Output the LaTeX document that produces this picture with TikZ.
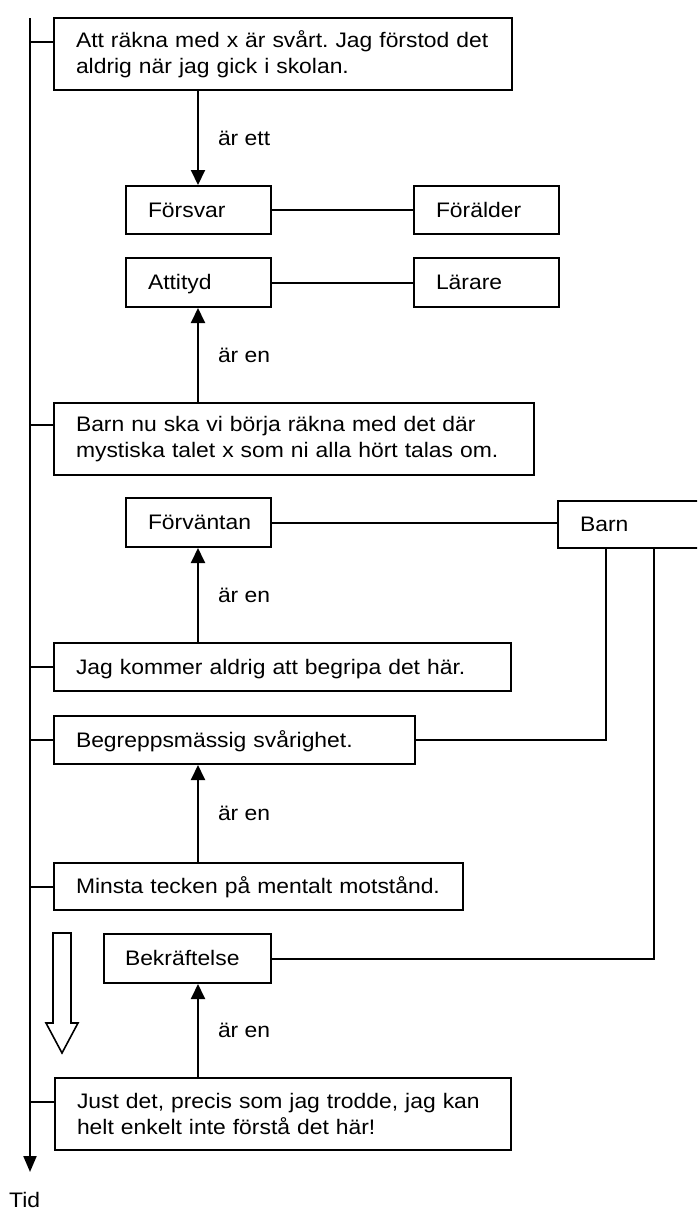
\documentclass[tikz,border=0pt]{standalone}
\usepackage{fontspec}
\setmainfont{Liberation Sans}[FakeStretch=1.09]
\usetikzlibrary{arrows.meta}
\frenchspacing
\begin{document}
\frenchspacing
\begin{tikzpicture}[x=1pt,y=-1pt,
  every node/.style={font=\fontsize{21}{26}\selectfont},
  box/.style={draw, line width=2pt, rectangle, anchor=north west, inner xsep=22pt, inner ysep=0pt, align=left},
  one/.style={text height=15pt, text depth=1pt},
  ln/.style={line width=2pt},
  arr/.style={line width=2pt, -{Triangle[length=15pt,width=14pt]}},
  tarr/.style={line width=2pt, -{Triangle[length=16pt,width=13pt]}},
  lab/.style={anchor=west, inner sep=0pt, xshift=19pt}]
\useasboundingbox (0,0) rectangle (697,1211);
\clip (0,0) rectangle (697,1211);

% boxes
\node[box, minimum width=458pt, minimum height=72pt, text width=414pt] (b1) at (53,17)
  {\mbox{Att räkna med x är svårt. Jag förstod det}\\\mbox{aldrig när jag gick i skolan.}};
\node[box, one, minimum width=145pt, minimum height=48pt, text width=101pt] (forsvar) at (125,185) {Försvar};
\node[box, one, minimum width=145pt, minimum height=48pt, text width=101pt] (foralder) at (413,185) {Förälder};
\node[box, one, minimum width=145pt, minimum height=49pt, text width=101pt] (attityd) at (125,257) {Attityd};
\node[box, one, minimum width=145pt, minimum height=49pt, text width=101pt] (larare) at (413,257) {Lärare};
\node[box, minimum width=480pt, minimum height=72pt, text width=436pt] (b2) at (53,402)
  {\mbox{Barn nu ska vi börja räkna med det där}\\\mbox{mystiska talet x som ni alla hört talas om.}};
\node[box, one, minimum width=145pt, minimum height=49pt, text width=101pt] (forvantan) at (125,497) {Förväntan};
\node[box, one, minimum width=170pt, minimum height=47pt, text width=126pt, inner xsep=21pt] (barn) at (557,500) {Barn};
\node[box, one, minimum width=457pt, minimum height=48pt, text width=413pt] (jag) at (53,642)
  {\mbox{Jag kommer aldrig att begripa det här.}};
\node[box, one, minimum width=361pt, minimum height=48pt, text width=317pt] (begrepp) at (53,715)
  {\mbox{Begreppsmässig svårighet.}};
\node[box, one, minimum width=409pt, minimum height=47pt, text width=365pt] (minsta) at (53,862)
  {\mbox{Minsta tecken på mentalt motstånd.}};
\node[box, one, minimum width=167pt, minimum height=49pt, text width=125pt, inner xsep=21pt] (bekr) at (103,933) {Bekräftelse};
\node[box, minimum width=456pt, minimum height=72pt, text width=412pt] (just) at (54,1077)
  {\mbox{Just det, precis som jag trodde, jag kan}\\\mbox{helt enkelt inte förstå det här!}};

% helper coordinates
\coordinate (axis) at (198,0);
\coordinate (tTop) at (30,18);
\coordinate (tEnd) at (30,1172);
\path (barn.south west) ++(49,0) coordinate (vA) ++(48,0) coordinate (vB);

% "är en" arrows
\draw[arr] (b1.south -| axis) -- node[lab]{är ett} (forsvar.north -| axis);
\draw[arr] (b2.north -| axis) -- node[lab]{är en} (attityd.south -| axis);
\draw[arr] (jag.north -| axis) -- node[lab]{är en} (forvantan.south -| axis);
\draw[arr] (minsta.north -| axis) -- node[lab]{är en} (begrepp.south -| axis);
\draw[arr] (just.north -| axis) -- node[lab]{är en} (bekr.south -| axis);

% plain links
\draw[ln] (forsvar.east) -- (foralder.west);
\draw[ln] (attityd.east) -- (larare.west);
\draw[ln] (forvantan.east) -- (forvantan.east -| barn.west);
\draw[ln] (begrepp.east) -| (vA);
\draw[ln] (bekr.east) -| (vB);

% time line
\draw[tarr] (tTop) -- (tEnd);
\foreach \n/\d in {b1/25, b2/23, just/25} {
  \path (\n.north west) ++(0,\d) coordinate (\n t);
  \draw[ln] (\n t -| tTop) -- (\n t);
}
\foreach \n in {jag, begrepp, minsta} {
  \draw[ln] (\n.west -| tTop) -- (\n.west);
}
\node[anchor=west, inner sep=0pt] (tid) at (9,1200) {Tid};

% hollow arrow
\draw[line width=1.6pt] (53,933) -- (71,933) -- (71,1023) -- (78,1023) -- (62,1053)
  -- (46,1023) -- (53,1023) -- cycle;
\end{tikzpicture}
\end{document}
